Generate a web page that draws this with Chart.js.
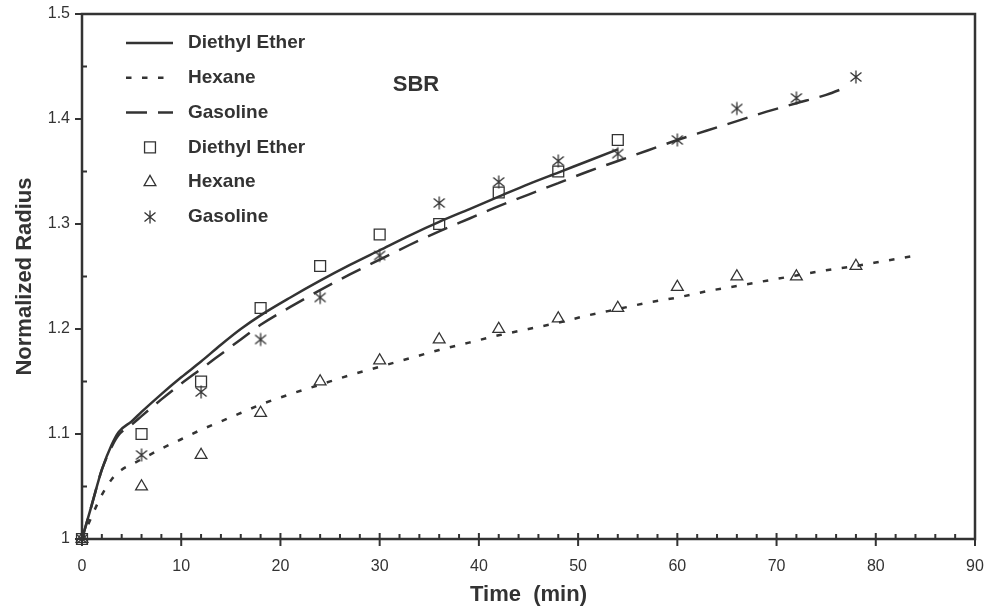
<!DOCTYPE html>
<html>
<head>
<meta charset="utf-8">
<script src="https://cdn.jsdelivr.net/npm/chart.js@4.4.0/dist/chart.umd.min.js"></script>
<style>
    html, body { margin: 0; padding: 0; background: #fff; }
</style>
</head>
<body>
<canvas id="swellChart" width="990" height="612"></canvas>
<script>
// fitted curves
const deLineTime = [0, 1, 2, 3, 3.7, 5, 6, 8, 10, 12, 14, 16, 18, 21, 24, 27, 30, 33, 36, 39, 42, 45, 48, 51, 54];
const deLineRadius = [1.0, 1.033, 1.066, 1.09, 1.102, 1.112, 1.121, 1.138, 1.154, 1.169, 1.185, 1.2, 1.213, 1.23, 1.246, 1.261, 1.275, 1.289, 1.302, 1.314, 1.326, 1.338, 1.349, 1.36, 1.371];

const hexLineTime = [0, 1, 2, 3, 4, 5, 6, 8, 10, 12, 14, 16, 18, 21, 24, 27, 30, 33, 36, 39, 42, 45, 48, 51, 54, 57, 60, 63, 66, 69, 72, 75, 78, 81, 83.5];
const hexLineRadius = [1.0, 1.022, 1.042, 1.057, 1.066, 1.071, 1.076, 1.086, 1.095, 1.104, 1.112, 1.12, 1.128, 1.138, 1.147, 1.156, 1.164, 1.172, 1.18, 1.187, 1.194, 1.2, 1.206, 1.213, 1.219, 1.225, 1.23, 1.236, 1.241, 1.246, 1.251, 1.256, 1.26, 1.265, 1.269];

const gasLineTime = [0, 1, 2, 3, 3.7, 5, 6, 8, 10, 12, 14, 16, 18, 21, 24, 27, 30, 33, 36, 39, 42, 45, 48, 51, 54, 57, 60, 63, 66, 69, 72, 75, 77];
const gasLineRadius = [1.0, 1.033, 1.066, 1.088, 1.099, 1.109, 1.117, 1.133, 1.148, 1.162, 1.176, 1.19, 1.204, 1.221, 1.237, 1.252, 1.266, 1.28, 1.293, 1.305, 1.317, 1.328, 1.339, 1.35, 1.36, 1.37, 1.38, 1.389, 1.398, 1.407, 1.415, 1.423, 1.43];

// measured points
const pointTime = [0, 6, 12, 18, 24, 30, 36, 42, 48, 54, 60, 66, 72, 78];
const deRadius = [1.0, 1.10, 1.15, 1.22, 1.26, 1.29, 1.30, 1.33, 1.35, 1.38];
const hexRadius = [1.0, 1.05, 1.08, 1.12, 1.15, 1.17, 1.19, 1.20, 1.21, 1.22, 1.24, 1.25, 1.25, 1.26];
const gasRadius = [1.0, 1.08, 1.14, 1.19, 1.23, 1.27, 1.32, 1.34, 1.36, 1.367, 1.38, 1.41, 1.42, 1.44];

const xMin = 0, xMax = 90, xStep = 10, xMinorStep = 2;
const yMin = 1, yMax = 1.5, yStep = 0.1, yMinorStep = 0.05;

const ink = '#333333';
const font = 'Liberation Sans, Arial, Helvetica, sans-serif';

function pairs(xs, ys) {
    return ys.map((y, i) => ({ x: xs[i], y: y }));
}

function makeAsterisk() {
    const c = document.createElement('canvas');
    c.width = 16;
    c.height = 16;
    const g = c.getContext('2d');
    g.strokeStyle = ink;
    g.lineWidth = 1.3;
    g.beginPath();
    g.moveTo(8, 1.5); g.lineTo(8, 14.5);
    g.moveTo(2.5, 3.5); g.lineTo(13.5, 12.5);
    g.moveTo(2.5, 12.5); g.lineTo(13.5, 3.5);
    g.stroke();
    return c;
}
const asterisk = makeAsterisk();

function lineSet(label, xs, ys, dash) {
    return {
        label: label,
        data: pairs(xs, ys),
        showLine: true,
        borderColor: ink,
        borderWidth: 2.5,
        borderDash: dash,
        pointRadius: 0,
        cubicInterpolationMode: 'monotone',
        fill: false
    };
}

function pointSet(label, ys, style, radius) {
    return {
        label: label,
        data: pairs(pointTime, ys),
        showLine: false,
        pointStyle: style,
        pointRadius: radius,
        pointBorderWidth: 1.3,
        pointBorderColor: ink,
        pointBackgroundColor: 'rgba(0,0,0,0)',
        clip: false
    };
}

// frame + tick marks
const framePlugin = {
    id: 'frame',
    beforeDatasetsDraw(chart) {
        const ctx = chart.ctx;
        const a = chart.chartArea;
        const xs = chart.scales.x;
        const ys = chart.scales.y;
        ctx.save();
        ctx.strokeStyle = ink;
        ctx.lineWidth = 2.5;
        ctx.strokeRect(a.left, a.top, a.right - a.left, a.bottom - a.top);
        ctx.lineWidth = 2;
        ctx.beginPath();
        for (let v = xMin; v <= xMax + 1e-9; v += xMinorStep) {
            const px = xs.getPixelForValue(v);
            const major = Math.abs(v / xStep - Math.round(v / xStep)) < 1e-6;
            ctx.moveTo(px, a.bottom - (major ? 6 : 5));
            ctx.lineTo(px, a.bottom + (major ? 7 : 0));
        }
        for (let v = yMin; v <= yMax + 1e-9; v += yMinorStep) {
            const py = ys.getPixelForValue(v);
            const major = Math.abs(v / yStep - Math.round(v / yStep)) < 1e-6;
            if (major) {
                ctx.moveTo(a.left - 7, py);
                ctx.lineTo(a.left, py);
            } else {
                ctx.moveTo(a.left, py);
                ctx.lineTo(a.left + 5, py);
            }
        }
        ctx.stroke();
        ctx.restore();
    }
};

function drawMarker(ctx, style, radius, x, y) {
    ctx.beginPath();
    if (style === 'rect') {
        const s = Math.SQRT1_2 * radius;
        ctx.rect(x - s, y - s, 2 * s, 2 * s);
        ctx.stroke();
    } else if (style === 'triangle') {
        let rad = 0;
        ctx.moveTo(x + Math.sin(rad) * radius, y - Math.cos(rad) * radius);
        rad += Math.PI * 2 / 3;
        ctx.lineTo(x + Math.sin(rad) * radius, y - Math.cos(rad) * radius);
        rad += Math.PI * 2 / 3;
        ctx.lineTo(x + Math.sin(rad) * radius, y - Math.cos(rad) * radius);
        ctx.closePath();
        ctx.stroke();
    } else {
        ctx.drawImage(style, x - style.width / 2, y - style.height / 2);
    }
}

// legend in the top left corner + "SBR" note
const legendPlugin = {
    id: 'cornerLegend',
    afterDraw(chart) {
        const ctx = chart.ctx;
        ctx.save();
        ctx.font = 'bold 19px ' + font;
        ctx.textBaseline = 'middle';
        ctx.fillStyle = ink;
        chart.data.datasets.forEach((ds, i) => {
            const y = 43 + i * 34.8;
            ctx.strokeStyle = ink;
            if (ds.showLine) {
                ctx.lineWidth = 2.5;
                ctx.setLineDash(ds.borderDash || []);
                ctx.beginPath();
                ctx.moveTo(126, y);
                ctx.lineTo(173, y);
                ctx.stroke();
                ctx.setLineDash([]);
            } else {
                ctx.lineWidth = 1.3;
                drawMarker(ctx, ds.pointStyle, ds.pointRadius, 150, y);
            }
            ctx.fillText(ds.label, 188, y);
        });
        ctx.font = 'bold 22px ' + font;
        ctx.textAlign = 'center';
        ctx.fillText('SBR', 416, 85);
        ctx.restore();
    }
};

const ctx = document.getElementById('swellChart').getContext('2d');
new Chart(ctx, {
    type: 'scatter',
    data: {
        datasets: [
            lineSet('Diethyl Ether', deLineTime, deLineRadius, []),
            lineSet('Hexane', hexLineTime, hexLineRadius, [5.5, 10.5]),
            lineSet('Gasoline', gasLineTime, gasLineRadius, [21, 11]),
            pointSet('Diethyl Ether', deRadius, 'rect', 7.7),
            pointSet('Hexane', hexRadius, 'triangle', 6.8),
            pointSet('Gasoline', gasRadius, asterisk, 8)
        ]
    },
    options: {
        responsive: false,
        animation: false,
        layout: { padding: { top: 14, right: 15, left: 0, bottom: 0 } },
        plugins: {
            legend: { display: false },
            tooltip: { enabled: false }
        },
        scales: {
            x: {
                type: 'linear',
                min: xMin,
                max: xMax,
                grid: { display: false, drawTicks: false },
                border: { display: false },
                ticks: { stepSize: xStep, color: ink, padding: 18, font: { family: font, size: 16 } },
                title: {
                    display: true,
                    text: 'Time  (min)',
                    color: ink,
                    padding: { top: 0, bottom: 4 },
                    font: { family: font, size: 22, weight: 'bold' }
                },
                afterFit: s => {
                    s.height = 73;
                    s.paddingLeft = 0;
                    s.paddingRight = 0;
                }
            },
            y: {
                type: 'linear',
                min: yMin,
                max: yMax,
                grid: { display: false, drawTicks: false },
                border: { display: false },
                ticks: {
                    stepSize: yStep,
                    color: ink,
                    padding: 12,
                    font: { family: font, size: 16 },
                    callback: v => String(Math.round(v * 10) / 10)
                },
                title: {
                    display: true,
                    text: 'Normalized Radius',
                    color: ink,
                    padding: { top: 12, bottom: 0 },
                    font: { family: font, size: 22, weight: 'bold' }
                },
                afterFit: s => {
                    s.width = 82;
                    s.paddingTop = 0;
                    s.paddingBottom = 0;
                }
            }
        }
    },
    plugins: [framePlugin, legendPlugin]
});
</script>
</body>
</html>
